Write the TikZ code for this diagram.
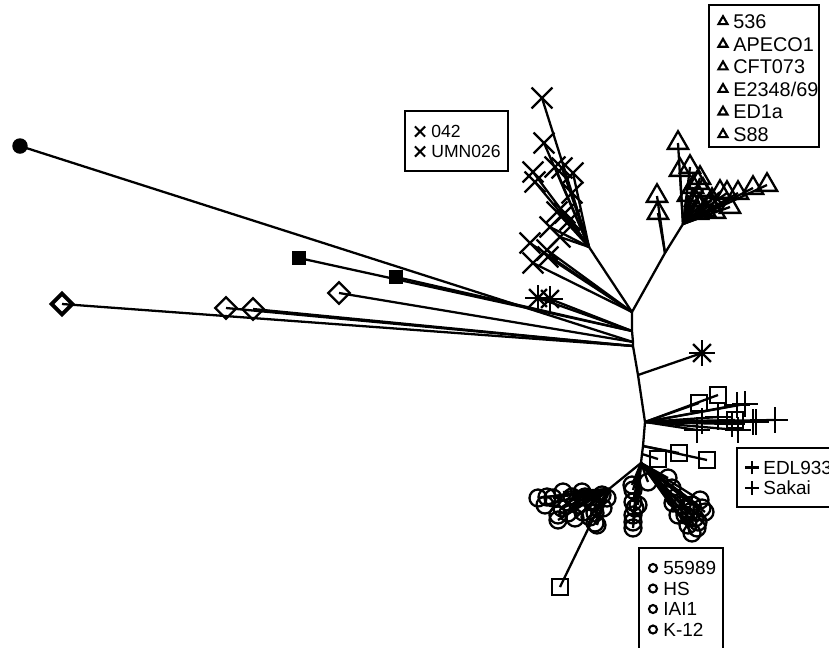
\documentclass[tikz,border=0pt]{standalone}
\usepackage{fontspec}
\setmainfont{Liberation Sans}
\usetikzlibrary{shapes.geometric,shapes.misc}

\tikzset{
  branch/.style={line width=1.3pt},
  leaf/.style={draw, inner sep=0pt, line width=1.3pt},
  crossleaf/.style={leaf, cross out, minimum size=0.37cm},
  plusleaf/.style={leaf, cross out, rotate=45, minimum size=0.31cm},
  triangleleaf/.style={leaf, regular polygon, regular polygon sides=3, minimum size=0.47cm},
  squareleaf/.style={leaf, rectangle, minimum size=0.31cm},
  circleleaf/.style={leaf, circle, minimum size=0.34cm},
  diamondleaf/.style={leaf, diamond, minimum size=0.45cm},
  blockleaf/.style={fill=black, rectangle, inner sep=0pt, minimum size=0.29cm},
  dotleaf/.style={fill=black, circle, inner sep=0pt, minimum size=0.31cm},
  legendbox/.style={line width=1.2pt},
  legendmark/.style={line width=1.2pt},
  legendtext/.style={anchor=base west, inner sep=0pt, font=\fontsize{#1}{12}\selectfont},
  legendtext/.default=10.8,
}

\begin{document}
\begin{tikzpicture}[x=0.02cm,y=-0.02cm]
    \useasboundingbox (0,0) rectangle (829,647);
    \clip (0,0) rectangle (829,647);

    % Backbone
    \coordinate (T) at (632,312);
    \coordinate (S) at (632,331);
    \coordinate (L) at (633,342);
    \coordinate (L2) at (633,346);
    \coordinate (A) at (638,375);
    \coordinate (P) at (645,422);
    \coordinate (Q) at (643,446);
    \coordinate (Q2) at (642,454);
    \coordinate (R) at (641,463);
    \coordinate (X) at (589,247);
    \coordinate (Tr1) at (665,253);
    \coordinate (Tr) at (683,224);
    \coordinate (CL) at (609,489);
    \coordinate (CLs) at (590,525);
    \draw[branch] (T) -- (S) -- (L) -- (L2) -- (A) -- (P) -- (Q) -- (Q2) -- (R);
    \draw[branch] (T) -- (X);
    \draw[branch] (T) -- (Tr1) -- (Tr);
    \draw[branch] (R) -- (CL) -- (CLs);

    % Crosses
    \foreach \x/\y [count=\i] in {542/98,544/143,555/167,562/168,573/173,533/172,535/182,
        572/193,557/212,565/213,550/227,570/220,560/237}
        \draw[branch] (X) -- (\x,\y) node[crossleaf] (xa\i) {};
    \foreach \x/\y [count=\i] in {530/243,547/250,548/257,533/263}
        \draw[branch] (T) -- (\x,\y) node[crossleaf] (xb\i) {};

    % Triangles
    \foreach \x/\y [count=\i] in {678/143,680/170,690/167,700/178,693/187,698/183,703/190,
        720/192,727/193,738/193,753/188,767/185,730/207,695/200,700/205,705/210,
        710/205,698/213,712/200,688/195,715/212}
        \draw[branch] (Tr) -- (\x,\y) node[triangleleaf] (ta\i) {};
    \foreach \x/\y [count=\i] in {657/196,658/213}
        \draw[branch] (Tr1) -- (\x,\y) node[triangleleaf] (tb\i) {};

    % Asterisks
    \foreach \x/\y [count=\i] in {538/298,550/299}
        \draw[branch] (S) -- (\x,\y) node[crossleaf, minimum size=0.31cm] (sa\i) {}
            node[plusleaf] (sp\i) {};
    \draw[branch] (A) -- (702,353) node[crossleaf, minimum size=0.31cm] (sa3) {}
        node[plusleaf] (sp3) {};

    % Long branches to the left
    \draw[branch] (L) -- (20,146) node[dotleaf] (d1) {};
    \draw[branch] (S) -- (299,258) node[blockleaf] (b1) {};
    \draw[branch] (S) -- (396,277) node[blockleaf] (b2) {};
    \draw[branch] (L) -- (339,293) node[diamondleaf] (m1) {};
    \draw[branch] (L2) -- (226,308) node[diamondleaf] (m2) {};
    \draw[branch] (L2) -- (253,309) node[diamondleaf] (m3) {};
    \draw[branch] (L2) -- (62,304) node[diamondleaf, line width=2.2pt] (m4) {};

    % Plus fan
    \foreach \x/\y [count=\i] in {699/403,718/395,735/420}
        \draw[branch] (P) -- (\x,\y) node[squareleaf] (qa\i) {};
    \foreach \x/\y [count=\i] in {737/405,745/404,702/421,718/417,732/424,738/430,
        697/430,753/422,756/422,775/420}
        \draw[branch] (P) -- (\x,\y) node[plusleaf] (pa\i) {};

    % Squares
    \draw[branch] (Q) -- (679,453) node[squareleaf] (qb1) {};
    \draw[branch] (Q) -- (707,460) node[squareleaf] (qb2) {};
    \draw[branch] (Q2) -- (658,459) node[squareleaf] (qb3) {};
    \draw[branch] (CLs) -- (560,587) node[squareleaf] (qb4) {};

    % Circles
    \foreach \x/\y [count=\i] in {632/485,633/490,648/482,633/502,635/508,633/515,
        633/522,633/528,638/505,668/478,672/488,675/498,682/505,692/505,702/508,
        705/512,685/515,695/518,688/525,697/528,692/533,678/515,698/522,673/503,
        700/500,690/512}
        \draw[branch] (R) -- (\x,\y) node[circleleaf] (ca\i) {};
    \foreach \x/\y [count=\i] in {538/498,547/497,553/498,563/492,572/497,582/492,
        567/502,578/505,592/502,602/495,607/498,562/508,558/515,568/513,583/512,
        595/513,603/508,558/520,575/518,590/517,595/523,597/525,545/505,585/497}
        \draw[branch] (CL) -- (\x,\y) node[circleleaf] (cb\i) {};

    % Legends
    \draw[legendbox] (709,5) rectangle (819,147);
    \foreach \s [count=\i] in {536,APECO1,CFT073,E2348/69,ED1a,S88} {
        \node[triangleleaf, legendmark, minimum size=0.21cm] (lt\i) at (723,{21.5+22.6*(\i-1)}) {};
        \node[legendtext=11.3] (tt\i) at (733,{28.5+22.6*(\i-1)}) {\s};
    }
    \draw[legendbox] (405,111) rectangle (508,171);
    \foreach \s [count=\i] in {042,UMN026} {
        \node[crossleaf, legendmark, minimum size=0.16cm] (lx\i) at (420,{131.5+20*(\i-1)}) {};
        \node[legendtext=10] (tx\i) at (431,{137.8+20*(\i-1)}) {\s};
    }
    \draw[legendbox] (737,448) rectangle (845,507);
    \foreach \s [count=\i] in {EDL933,Sakai} {
        \node[plusleaf, legendmark, minimum size=0.155cm] (lp\i) at (752,{467.5+20.5*(\i-1)}) {};
        \node[legendtext] (tp\i) at (763,{474+20.5*(\i-1)}) {\s};
    }
    \draw[legendbox] (639,548) rectangle (723,660);
    \foreach \s [count=\i] in {55989,HS,IAI1,K-12} {
        \node[circleleaf, legendmark, minimum size=0.16cm] (lc\i) at (653,{568+20.5*(\i-1)}) {};
        \node[legendtext] (tc\i) at (663,{574.5+20.5*(\i-1)}) {\s};
    }
\end{tikzpicture}
\end{document}
